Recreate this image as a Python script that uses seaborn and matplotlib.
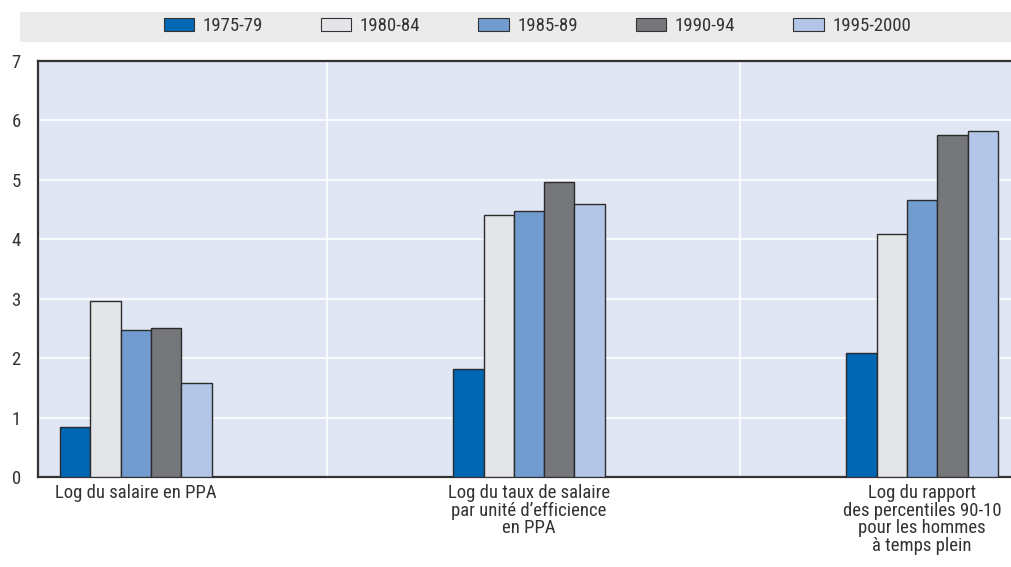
import numpy as np
import pandas as pd
import matplotlib.pyplot as plt
import matplotlib.patches as mpatches
import seaborn as sns

categories = ["Log du salaire en PPA",
              "Log du taux de salaire\npar unité d’efficience\nen PPA",
              "Log du rapport\ndes percentiles 90-10\npour les hommes\nà temps plein"]
periods = ["1975-79", "1980-84", "1985-89", "1990-94", "1995-2000"]
v_1975 = [0.84, 1.81, 2.08]
v_1980 = [2.96, 4.41, 4.09]
v_1985 = [2.47, 4.47, 4.66]
v_1990 = [2.51, 4.97, 5.76]
v_1995 = [1.58, 4.60, 5.82]
colors = ["#0067b4", "#e4e5e8", "#729bd0", "#76777b", "#b3c6e7"]
y_ticks = [0, 1, 2, 3, 4, 5, 6, 7]

rows = []
for p, vals in zip(periods, [v_1975, v_1980, v_1985, v_1990, v_1995]):
    for c, v in zip(categories, vals):
        rows.append({"cat": c, "period": p, "value": v})
df = pd.DataFrame(rows)

sns.set_style("white")
plt.rcParams['font.family'] = ['Roboto Condensed', 'Liberation Sans Narrow', 'Roboto', 'DejaVu Sans']
text_col = "#333333"

fig = plt.figure(figsize=(10.12, 5.67), dpi=100)
ax = fig.add_axes([38 / 1012, 1 - 477 / 567, 1 - 38 / 1012 + 0.02, (477 - 61) / 567])
ax.set_facecolor("#e1e6f4")

sns.barplot(data=df, x="cat", y="value", hue="period", order=categories,
            hue_order=periods, palette=colors, saturation=1, width=0.385,
            edgecolor="#2b2b2b", linewidth=1.0, ax=ax, legend=False, zorder=3)

ax.set_ylim(0, 7)
ax.set_xlim(-0.249, 2.28)
ax.set_yticks(y_ticks)
ax.yaxis.grid(True, color="white", linewidth=1.2, zorder=0)
for xb in [0.486, 1.537]:
    ax.axvline(xb, color="white", linewidth=1.2, zorder=0)
ax.set_axisbelow(True)

ax.set_xticks([0.486, 1.537])
ax.set_xticklabels(["", ""])
ax.set_xticks([0, 1, 2], minor=True)
ax.set_xticklabels(categories, minor=True, fontsize=13.5, color=text_col,
                   linespacing=0.98, va="top")
ax.tick_params(axis="x", which="major", direction="in", length=7, width=1.2, color="#333333")
ax.tick_params(axis="x", which="minor", length=0, pad=5)
ax.tick_params(axis="y", direction="in", length=7, width=1, color="#333333",
               labelsize=13.5, labelcolor=text_col, pad=19)
for lab in ax.get_yticklabels():
    lab.set_horizontalalignment("left")
ax.set_xlabel("")
ax.set_ylabel("")

for s in ["left", "bottom", "top"]:
    ax.spines[s].set_color("#333333")
    ax.spines[s].set_linewidth(1.6)
ax.spines["right"].set_visible(False)

# legend band
fig.patches.append(mpatches.Rectangle((20 / 1012, 1 - 42 / 567), 1.0, 30 / 567,
                                      transform=fig.transFigure, facecolor="#ebebeb",
                                      edgecolor="none", zorder=0))
handles = [mpatches.Patch(facecolor=c, edgecolor="#333333", linewidth=0.8, label=p)
           for c, p in zip(colors, periods)]
fig.legend(handles=handles, loc="center", bbox_to_anchor=(0.531, 1 - 26 / 567), ncol=5,
           frameon=False, fontsize=13.5, handlelength=1.62, handleheight=0.75,
           handletextpad=0.45, columnspacing=3.1, labelcolor=text_col)

fig.savefig("out.png", dpi=100)
